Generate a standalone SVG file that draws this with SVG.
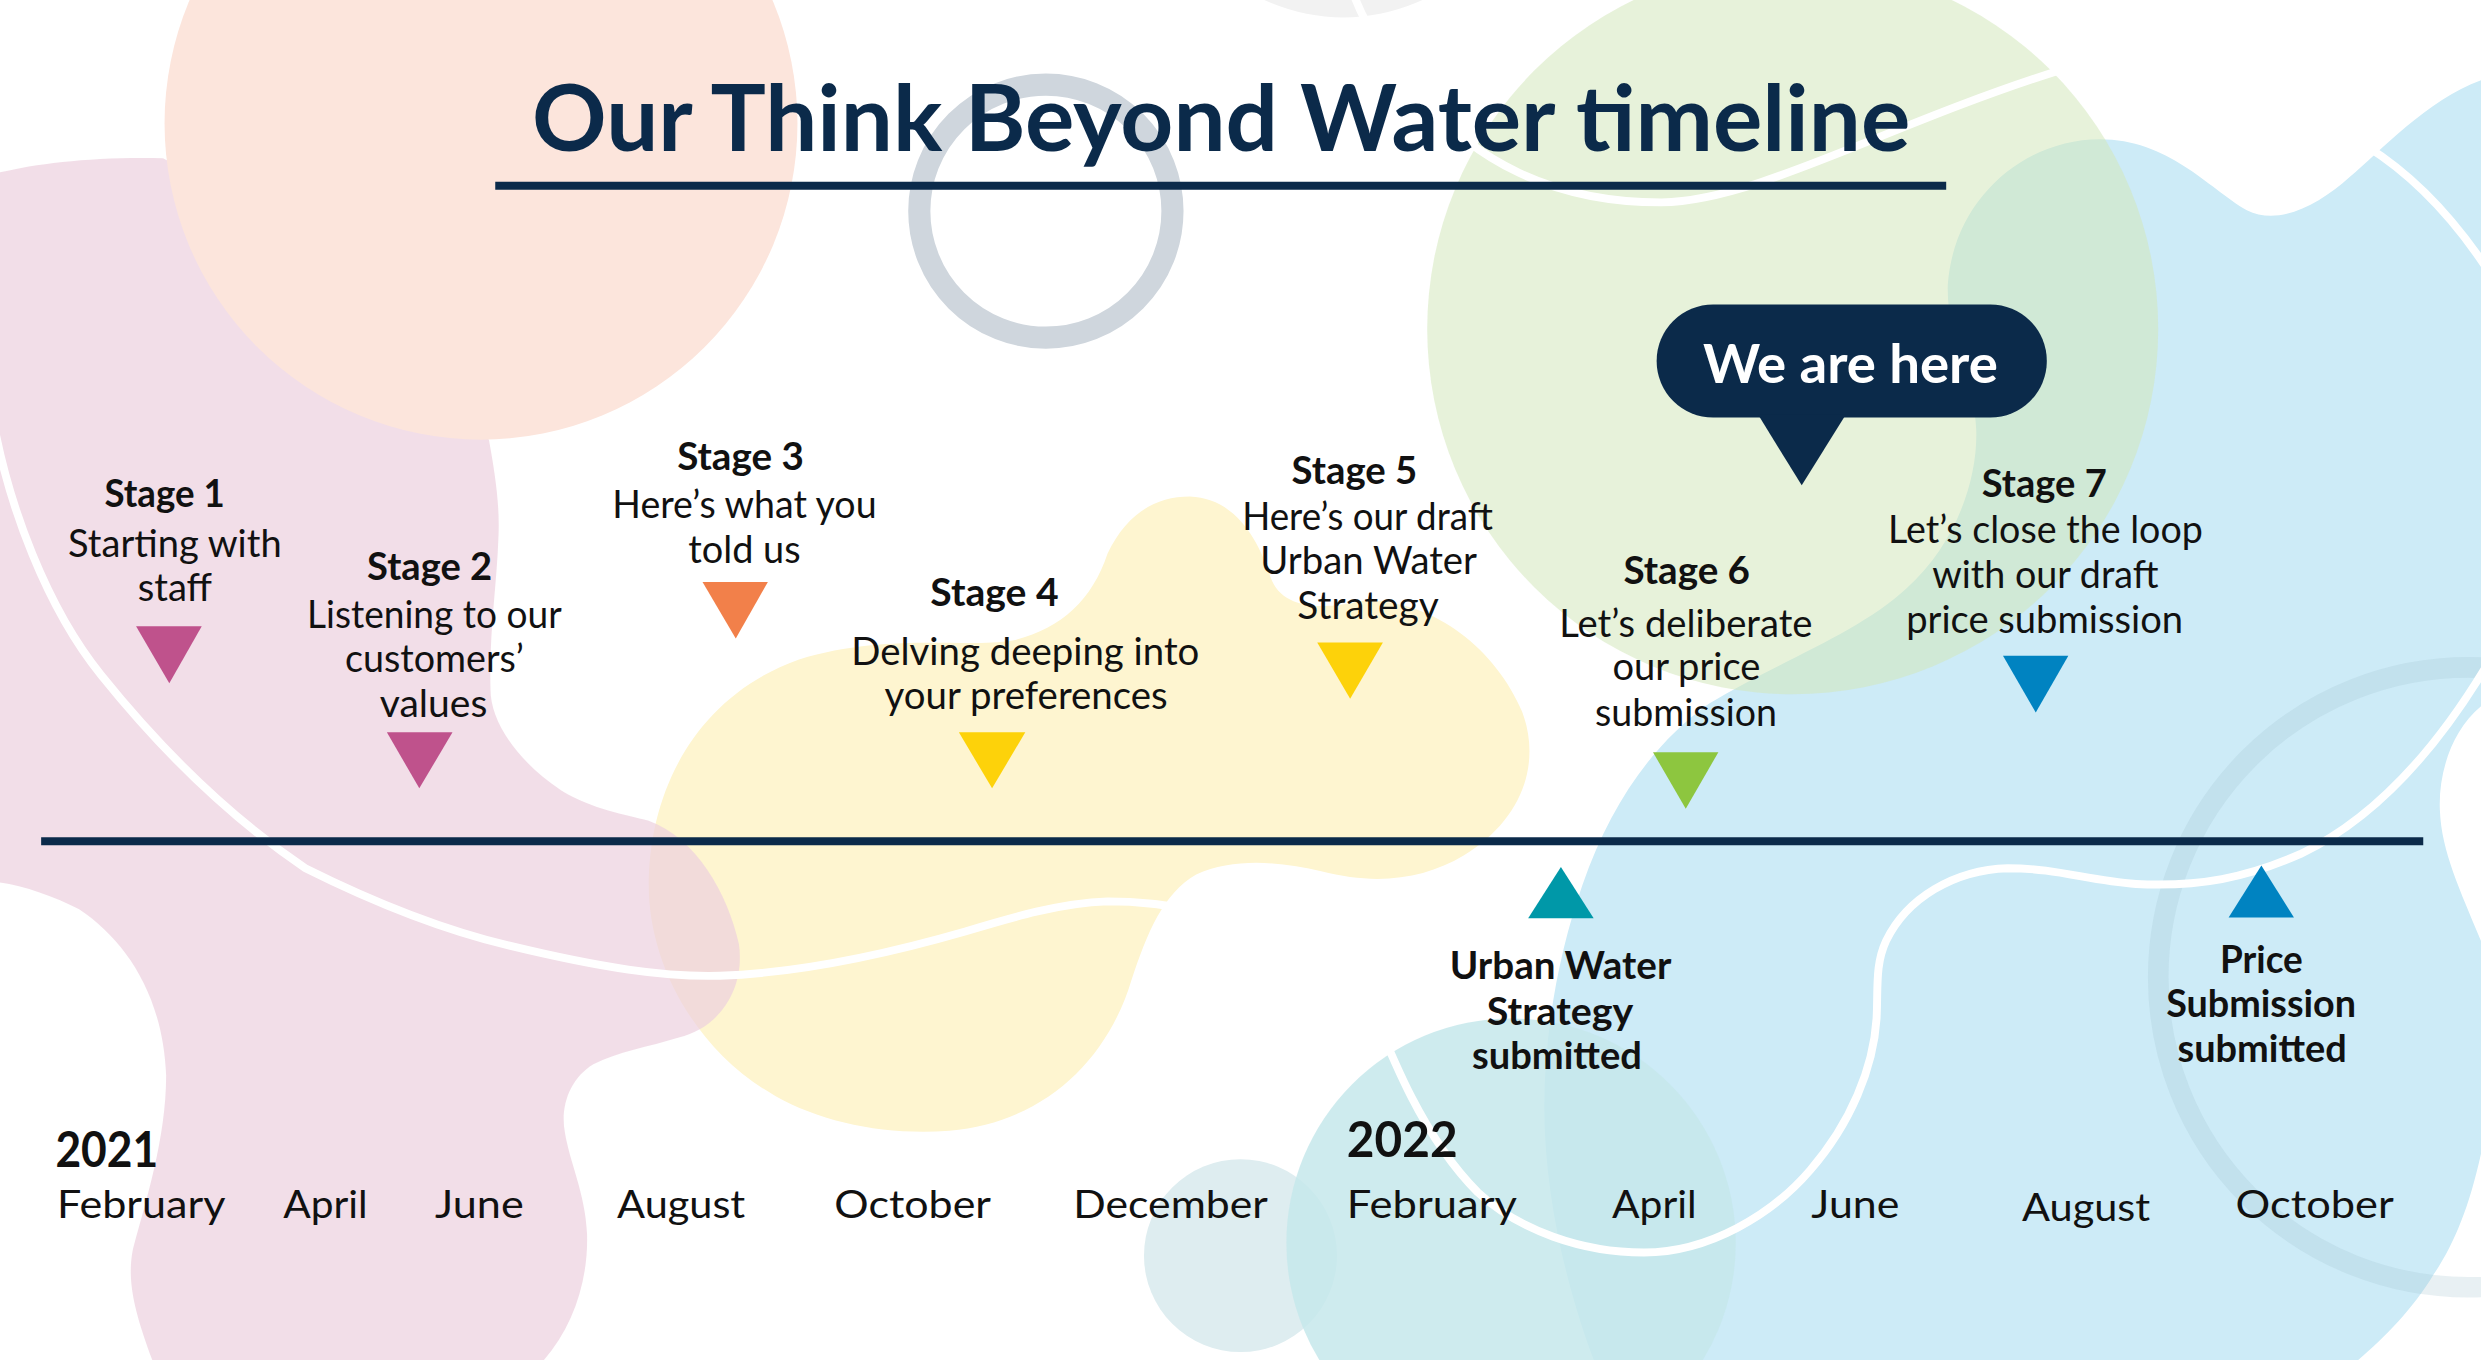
<svg xmlns="http://www.w3.org/2000/svg" width="2481" height="1360" viewBox="0 0 2481 1360">
<defs>
<style>
.lbl{font-family:Lato,"Open Sans","Liberation Sans",sans-serif;font-size:24px;fill:#111;text-anchor:middle;font-weight:400}
.bd{font-weight:700}
.mo{font-family:Lato,"Open Sans","Liberation Sans",sans-serif;font-size:25px;fill:#111;font-weight:400}
.yr{font-family:Lato,"Open Sans","Liberation Sans",sans-serif;font-size:31px;fill:#111;font-weight:700}
.wl{fill:none;stroke:#fff;stroke-width:5;stroke-linecap:round}
</style>
</defs>
<rect width="2481" height="1360" fill="#fff"/>
<g transform="scale(1.58227 1.58140)">
<g id="backdrop">
<circle cx="849" cy="-108" r="119" fill="#f2f2f2"/>
<path d="M505,417 C560,400 610,410 640,405 C670,398 690,380 700,350 C712,325 730,314 752,314 C780,315 795,340 803,365 C810,385 835,386 860,380 C905,378 945,410 962,450 C975,485 960,520 925,541 C900,556 870,560 835,551 C810,545 780,542 756,553 C735,565 725,590 715,620 C700,670 660,710 600,715 C560,718 520,710 490,693 C440,665 410,610 410,560 C410,500 440,440 505,417 Z" fill="#fef5d0"/>
<path d="M0,109 C25,103 60,99 103,100 L200,150 L309,278 C313,300 316,320 315,340 C314,370 309,400 310,436 C310,455 325,480 355,500 C375,512 395,515 410,519 C440,530 460,565 467,597 C471,625 455,650 429,656 C410,662 390,665 375,673 C360,682 354,700 357,716 C360,735 370,755 371,780 C372,810 362,840 342,862 L97,862 C85,830 80,810 84,790 C92,760 105,720 105,680 C103,630 80,595 50,575 C35,567 15,560 0,558 Z" fill="#ecd0de" fill-opacity="0.7"/>
<circle cx="304" cy="78" r="200" fill="#fce5dc"/>
<circle cx="661" cy="133.5" r="80" fill="none" stroke="#cfd6dd" stroke-width="14"/>
<path d="M1327,88 C1370,88 1395,118 1420,133 C1440,143 1465,130 1485,112 C1505,95 1535,62 1570,50 L1570,445 C1550,460 1541,488 1542,512 C1543,540 1556,565 1570,600 L1570,720 C1562,760 1552,785 1538,806 C1525,828 1505,848 1488,862 L1008,862 C992,820 976,760 976,700 C976,650 986,600 1000,560 C1018,508 1045,470 1080,445 C1125,418 1175,400 1205,372 C1235,345 1250,305 1249,272 C1248,240 1230,215 1231,180 C1235,125 1280,88 1327,88 Z" fill="#cdebf7"/>
<circle cx="1133" cy="208" r="231" fill="#d2e7ba" fill-opacity="0.54"/>
<circle cx="784" cy="794" r="61" fill="#deedf0"/>
<circle cx="955" cy="786" r="142" fill="#c6e7eb" fill-opacity="0.85"/>
<circle cx="1560" cy="618" r="196" fill="none" stroke="#9fbfcc" stroke-opacity="0.24" stroke-width="13"/>
<path class="wl" d="M-5,262 C5,320 30,385 64,427 C105,478 150,520 193,549 C235,570 280,588 322,598 C380,612 420,618 455,617 C510,615 565,602 610,589 C640,580 670,571 700,570 C720,570 735,572 760,576"/>
<path class="wl" d="M862,625 C880,670 900,720 934,754 C960,778 1000,792 1039,792 C1080,792 1120,768 1144,740 C1170,710 1184,675 1186,644 C1187,625 1185,610 1192,595 C1205,568 1235,550 1269,549 C1300,549 1320,557 1350,559 C1390,561 1420,555 1454,540 C1500,518 1540,475 1575,415"/>
<path class="wl" d="M855,-5 C862,15 880,45 900,62 C930,100 980,128 1050,128 C1110,127 1190,80 1300,45"/>
<path class="wl" d="M1495,92 Q1540,120 1575,175"/>
</g>
<g id="title">
<text x="771.8" y="95.4" font-family="Lato,'Open Sans','Liberation Sans',sans-serif" font-size="58" font-weight="700" fill="#0b2a4a" text-anchor="middle" textLength="871" lengthAdjust="spacingAndGlyphs">Our Think Beyond Water timeline</text>
</g>
<g id="connectors">
<line x1="313" y1="117.5" x2="1230" y2="117.5" stroke="#0b2a4a" stroke-width="5"/>
<line x1="26" y1="532" x2="1531.5" y2="532" stroke="#0b2a4a" stroke-width="5"/>
</g>
<g id="stage1">
<polygon points="86,396 127.5,396 107,432" fill="#bf528c"/>
<text class="lbl bd" x="104" y="320.8" textLength="76" lengthAdjust="spacingAndGlyphs">Stage 1</text>
<text class="lbl" x="110.5" y="352" textLength="135" lengthAdjust="spacingAndGlyphs">Starting with</text>
<text class="lbl" x="110.5" y="379.8" textLength="47" lengthAdjust="spacingAndGlyphs">staff</text>
</g>
<g id="stage2">
<polygon points="244.5,463 286,463 265,498.5" fill="#bf528c"/>
<text class="lbl bd" x="271.5" y="367" textLength="79" lengthAdjust="spacingAndGlyphs">Stage 2</text>
<text class="lbl" x="274.5" y="397" textLength="161" lengthAdjust="spacingAndGlyphs">Listening to our</text>
<text class="lbl" x="274.5" y="425" textLength="113" lengthAdjust="spacingAndGlyphs">customers’</text>
<text class="lbl" x="274" y="453.5" textLength="68" lengthAdjust="spacingAndGlyphs">values</text>
</g>
<g id="stage3">
<polygon points="444,368 485.3,368 465,403.7" fill="#f2804a"/>
<text class="lbl bd" x="468" y="296.9" textLength="80" lengthAdjust="spacingAndGlyphs">Stage 3</text>
<text class="lbl" x="470.5" y="327.6" textLength="167" lengthAdjust="spacingAndGlyphs">Here’s what you</text>
<text class="lbl" x="470.5" y="355.9" textLength="71" lengthAdjust="spacingAndGlyphs">told us</text>
</g>
<g id="stage4">
<polygon points="606,463 648,463 627,498.5" fill="#fdd20a"/>
<text class="lbl bd" x="628.5" y="383.4" textLength="81" lengthAdjust="spacingAndGlyphs">Stage 4</text>
<text class="lbl" x="648" y="420.6" textLength="220" lengthAdjust="spacingAndGlyphs">Delving deeping into</text>
<text class="lbl" x="648.5" y="448.6" textLength="179" lengthAdjust="spacingAndGlyphs">your preferences</text>
</g>
<g id="stage5">
<polygon points="832.5,406.3 874,406.3 853.3,441.9" fill="#fdd20a"/>
<text class="lbl bd" x="856" y="306.3" textLength="79.4" lengthAdjust="spacingAndGlyphs">Stage 5</text>
<text class="lbl" x="864.3" y="334.9" textLength="158.5" lengthAdjust="spacingAndGlyphs">Here’s our draft</text>
<text class="lbl" x="865" y="363.2" textLength="137" lengthAdjust="spacingAndGlyphs">Urban Water</text>
<text class="lbl" x="864.6" y="391.5" textLength="89.4" lengthAdjust="spacingAndGlyphs">Strategy</text>
</g>
<g id="we-are-here">
<rect x="1047" y="192.5" width="246.6" height="71.5" rx="35.7" fill="#0b2a4a"/>
<polygon points="1111,262 1166.7,262 1138.7,306.9" fill="#0b2a4a"/>
<text x="1169.5" y="242.2" font-family="Lato,'Open Sans','Liberation Sans',sans-serif" font-size="33.5" font-weight="700" fill="#fff" text-anchor="middle" textLength="186.3" lengthAdjust="spacingAndGlyphs">We are here</text>
</g>
<g id="stage6">
<polygon points="1044.7,475.7 1086,475.7 1065.4,511.4" fill="#8dc63f"/>
<text class="lbl bd" x="1066" y="369.2" textLength="80" lengthAdjust="spacingAndGlyphs">Stage 6</text>
<text class="lbl" x="1065.5" y="402.5" textLength="160" lengthAdjust="spacingAndGlyphs">Let’s deliberate</text>
<text class="lbl" x="1065.8" y="430.3" textLength="93.5" lengthAdjust="spacingAndGlyphs">our price</text>
<text class="lbl" x="1065.6" y="459.3" textLength="115" lengthAdjust="spacingAndGlyphs">submission</text>
</g>
<g id="stage7">
<polygon points="1265.9,414.6 1307.2,414.6 1286.6,450.6" fill="#0083c1"/>
<text class="lbl bd" x="1292" y="314.2" textLength="79" lengthAdjust="spacingAndGlyphs">Stage 7</text>
<text class="lbl" x="1292.7" y="343.2" textLength="199" lengthAdjust="spacingAndGlyphs">Let’s close the loop</text>
<text class="lbl" x="1292.7" y="371.9" textLength="143" lengthAdjust="spacingAndGlyphs">with our draft</text>
<text class="lbl" x="1292.2" y="400" textLength="175" lengthAdjust="spacingAndGlyphs">price submission</text>
</g>
<g id="urban-water-submitted">
<polygon points="965.8,580.6 1007.2,580.6 986.5,548.3" fill="#0098a8"/>
<text class="lbl bd" x="986.3" y="619.2" textLength="140" lengthAdjust="spacingAndGlyphs">Urban Water</text>
<text class="lbl bd" x="986" y="648" textLength="92.6" lengthAdjust="spacingAndGlyphs">Strategy</text>
<text class="lbl bd" x="984" y="676.2" textLength="107.4" lengthAdjust="spacingAndGlyphs">submitted</text>
</g>
<g id="price-submission-submitted">
<polygon points="1408.5,580.2 1449.8,580.2 1429.2,547.3" fill="#0083c1"/>
<text class="lbl bd" x="1429.2" y="615.1" textLength="52.4" lengthAdjust="spacingAndGlyphs">Price</text>
<text class="lbl bd" x="1429" y="643.4" textLength="120" lengthAdjust="spacingAndGlyphs">Submission</text>
<text class="lbl bd" x="1429.7" y="671.3" textLength="107" lengthAdjust="spacingAndGlyphs">submitted</text>
</g>
<g id="axis-2021">
<text class="yr" x="35" y="737.7" textLength="65" lengthAdjust="spacingAndGlyphs">2021</text>
<text class="mo" x="36" y="770" textLength="106.5" lengthAdjust="spacingAndGlyphs">February</text>
<text class="mo" x="179" y="770" textLength="53.4" lengthAdjust="spacingAndGlyphs">April</text>
<text class="mo" x="275" y="770" textLength="56" lengthAdjust="spacingAndGlyphs">June</text>
<text class="mo" x="390" y="770" textLength="81" lengthAdjust="spacingAndGlyphs">August</text>
<text class="mo" x="527.3" y="770" textLength="99" lengthAdjust="spacingAndGlyphs">October</text>
<text class="mo" x="678.3" y="770" textLength="123" lengthAdjust="spacingAndGlyphs">December</text>
</g>
<g id="axis-2022">
<text class="yr" x="851.2" y="731.6" textLength="70" lengthAdjust="spacingAndGlyphs">2022</text>
<text class="mo" x="851.2" y="770" textLength="107.5" lengthAdjust="spacingAndGlyphs">February</text>
<text class="mo" x="1018.8" y="770" textLength="53.5" lengthAdjust="spacingAndGlyphs">April</text>
<text class="mo" x="1144.8" y="770" textLength="55.6" lengthAdjust="spacingAndGlyphs">June</text>
<text class="mo" x="1277.9" y="772" textLength="81" lengthAdjust="spacingAndGlyphs">August</text>
<text class="mo" x="1412.9" y="770" textLength="100" lengthAdjust="spacingAndGlyphs">October</text>
</g>
</g>
</svg>
